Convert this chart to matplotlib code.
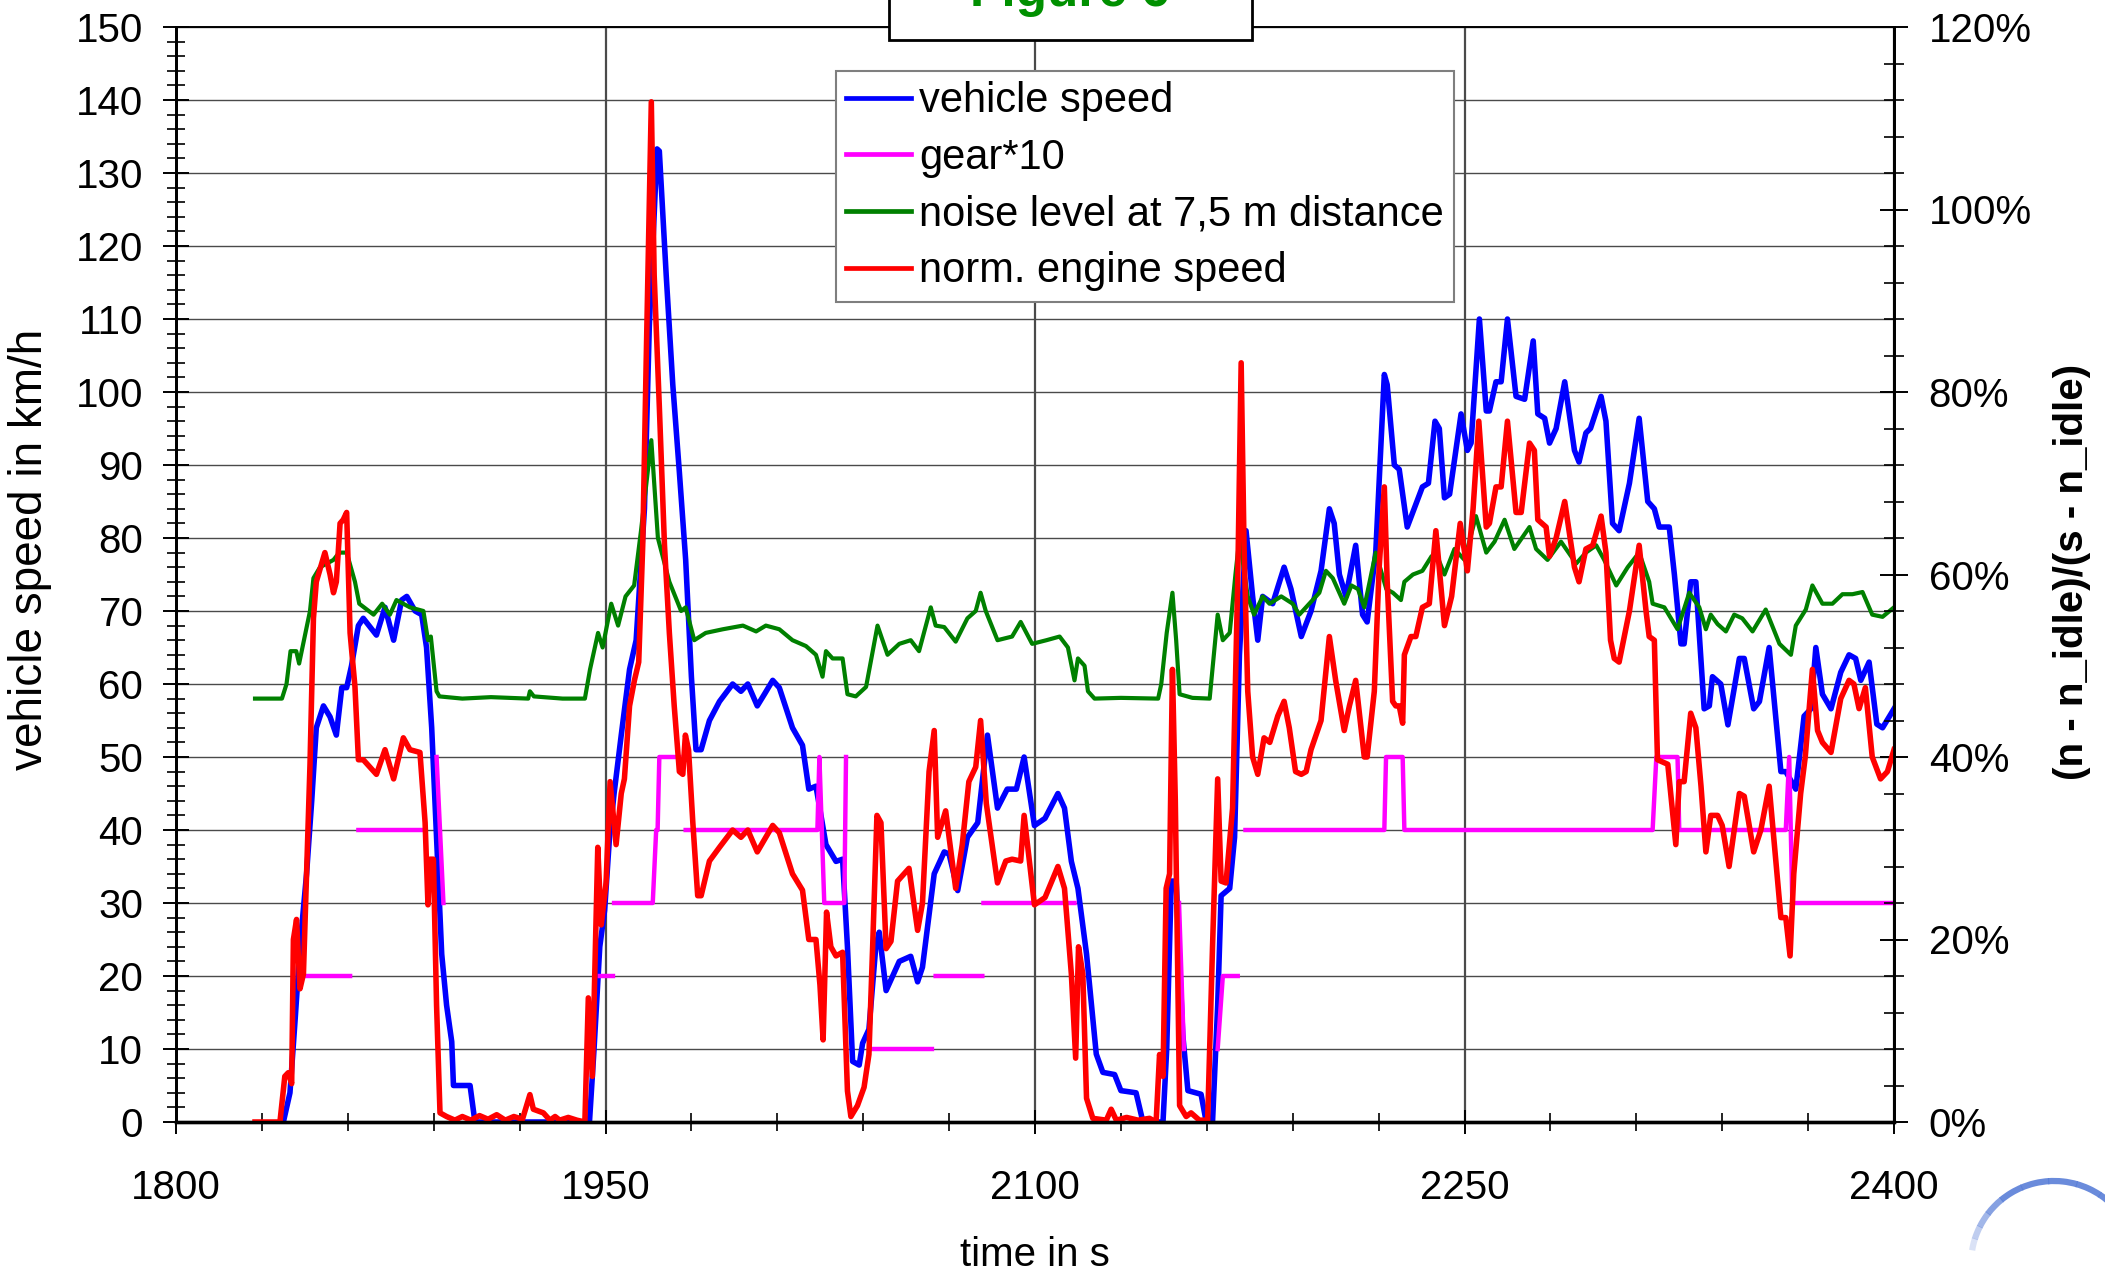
import numpy as np
import matplotlib.pyplot as plt
from matplotlib.lines import Line2D
from matplotlib.patches import Rectangle, Arc
from matplotlib.ticker import MultipleLocator, PercentFormatter

plt.rcParams['font.family'] = ['Liberation Sans', 'DejaVu Sans']

# vehicle speed in km/h
t_speed = [1837.5, 1839.8, 1841.6, 1843.3, 1845.6, 1847.4, 1849, 1851.5, 1853.8, 1856,
           1857.9, 1859.6, 1861.3, 1863.7, 1865.4, 1870, 1873, 1876, 1878.8, 1880.6,
           1883.5, 1885.8, 1887.5, 1889.3, 1891, 1892.8, 1894.5, 1896.3, 1896.9, 1902.7,
           1904.4, 1944.4, 1946, 1948, 1949.7, 1951.4, 1953, 1955.5, 1958.4, 1960.7,
           1963.6, 1965.3, 1968, 1968.8, 1971.2, 1973.5, 1975.8, 1978, 1980, 1981.6,
           1983.4, 1986.3, 1989.8, 1994.4, 1997.3, 1999.7, 2003, 2005.5, 2008.4, 2010.7,
           2015.3, 2018.8, 2021, 2023.5, 2027, 2030.5, 2032.8, 2034.5, 2036.3, 2038.6,
           2039.8, 2042, 2044.4, 2045.6, 2048, 2052.6, 2056.6, 2059, 2060.7, 2064.8,
           2068.3, 2070, 2073, 2076.4, 2080, 2083.4, 2086.9, 2090.3, 2093.5, 2096.2,
           2099.8, 2103.5, 2108, 2110.3, 2112.7, 2115, 2118, 2121.4, 2123.7, 2127.8,
           2130, 2135.3, 2137.7, 2144.7, 2146, 2147.6, 2149.3, 2151.6, 2153.4, 2158,
           2159.8, 2162, 2163.8, 2165, 2168, 2169.7, 2171.4, 2173.7, 2176, 2177.8,
           2179.5, 2183, 2187, 2189.4, 2193, 2196.4, 2199.9, 2202.8, 2204.5, 2206.3,
           2208.6, 2212, 2214.4, 2216, 2219, 2222, 2223, 2225.5, 2227.2, 2230,
           2232.4, 2235.3, 2237.4, 2239.7, 2241.2, 2243, 2244.8, 2248.8, 2251, 2252.3,
           2255.2, 2257.6, 2258.7, 2261, 2262.8, 2265, 2268, 2271, 2274, 2275.6,
           2278, 2279.7, 2282, 2285, 2288.4, 2290, 2292.4, 2294, 2297.7, 2299.4,
           2301.7, 2304, 2307.6, 2311, 2314, 2316.3, 2318, 2321.5, 2323.3, 2325.6,
           2326.7, 2329, 2330.8, 2333.7, 2335.5, 2336.6, 2339.5, 2342, 2346, 2347.7,
           2351, 2353, 2356.4, 2360.5, 2362.2, 2365.7, 2368.6, 2371, 2372.7, 2375,
           2378, 2381.4, 2384.3, 2386.6, 2388.4, 2391.3, 2394, 2396, 2400]
v_speed = [0, 4, 14, 24, 34, 44, 54, 57, 55.5, 53,
           59.5, 59.5, 62.5, 68, 69, 66.7, 70.5, 66, 71.5, 72,
           70, 69.5, 65, 54, 39, 23, 16, 11, 5, 5,
           0, 0, 10, 24, 29, 39, 45, 53, 62, 66,
           84, 109, 133.3, 133, 116, 101, 89, 77, 61, 51,
           51, 55, 57.6, 60, 59, 60, 57, 58.6, 60.5, 59.5,
           54, 51.6, 45.6, 46, 38, 35.7, 36, 24, 8.3, 7.8,
           10.8, 12.7, 24, 26, 18, 22, 22.7, 19.2, 21.2, 34,
           37, 36.7, 31.7, 39, 41, 53, 43, 45.6, 45.6, 50,
           40.6, 41.6, 45, 43, 35.7, 32, 23, 9.3, 6.8, 6.5,
           4.3, 4, 0, 0, 10, 33, 33, 12, 4.3, 3.8,
           0, 0, 16, 31, 32, 39, 64, 81, 72, 66,
           72, 71, 76, 73, 66.5, 70, 75.5, 84, 82, 75,
           72, 79, 69.5, 68.5, 78, 102.4, 101, 90, 89.4, 81.5,
           84, 87, 87.5, 96, 95, 85.5, 86, 97, 92, 93,
           110, 97.4, 97.4, 101.4, 101.4, 110, 99.4, 99, 107, 97,
           96.4, 93, 95, 101.4, 92, 90.4, 94.4, 95, 99.4, 96,
           82, 81, 87.5, 96.4, 85, 84, 81.5, 81.5, 75, 65.5,
           65.5, 74, 74, 56.6, 57, 61, 60, 54.4, 63.5, 63.5,
           56.6, 57.6, 65, 48, 48, 45.6, 55.6, 56.6, 65, 58.6,
           56.6, 61.6, 64, 63.5, 60.5, 63, 54.5, 54, 56.6]

# gear*10, gaps while declutched
t_gear = [1844.5, 1860.8, 1862, 1863.7, 1886.4, 1888, 1891, 1893.4, 1895,
          1948, 1952.6, 1952.8, 1953, 1966.5, 1967.7, 1968.2, 1968.8, 1975.8, 1977,
          1978, 2024, 2024.7, 2026.4, 2033.4, 2034, 2034.6,
          2043.3, 2064, 2064.7, 2065.3, 2081.6, 2081.8, 2082, 2113.8, 2114.5,
          2150.3, 2152, 2152.5, 2163.8, 2165.6, 2170.8, 2172,
          2173.5, 2222, 2222.6, 2228.4, 2229, 2315.7, 2317, 2324.4, 2325,
          2362.2, 2363.4, 2364.5, 2400]
v_gear = [20, 20, np.nan, 40, 40, np.nan, 50, 30, np.nan,
          20, 20, np.nan, 30, 30, 40, 40, 50, 50, np.nan,
          40, 40, 50, 30, 30, 50, np.nan,
          10, 10, np.nan, 20, 20, np.nan, 30, 30, np.nan,
          30, 10, np.nan, 10, 20, 20, np.nan,
          40, 40, 50, 50, 40, 40, 50, 50, 40,
          40, 50, 30, 30]

# noise level at 7,5 m
t_noise = [1827.6, 1837, 1838.6, 1840, 1842, 1843, 1846.8, 1848, 1850.3, 1855,
           1857, 1859.6, 1862.5, 1864, 1869, 1872, 1874.7, 1877, 1881.7, 1886.4,
           1888, 1889, 1891, 1892, 1900, 1910, 1923, 1923.6, 1925, 1935,
           1942.8, 1944.6, 1947.4, 1949, 1952, 1954.4, 1957, 1960, 1962.4, 1966,
           1968.3, 1972.3, 1976.4, 1978, 1981, 1985, 1991, 1998, 2002.6, 2006,
           2010.7, 2015.3, 2020, 2023.5, 2025.8, 2027, 2029.3, 2032.8, 2034.5, 2037.4,
           2041, 2045, 2048.5, 2052.6, 2056.6, 2059.5, 2063.6, 2065.3, 2068.3, 2072.3,
           2076.4, 2079.3, 2081, 2082.8, 2086.9, 2092, 2095, 2099, 2104, 2108.6,
           2111.5, 2113.8, 2115, 2117.3, 2118.5, 2120.8, 2130, 2143, 2144.1, 2146,
           2148, 2149.3, 2150.5, 2155, 2161, 2163.8, 2165.6, 2168, 2170, 2171.4,
           2174.3, 2176.5, 2179.5, 2181.9, 2186, 2190, 2192.3, 2195.8, 2199.3, 2201.6,
           2204, 2208, 2210.5, 2212.8, 2215, 2219, 2222.7, 2225, 2227.8, 2229,
           2232, 2235.3, 2238.5, 2241, 2243, 2246.5, 2250, 2254, 2257.6, 2260.5,
           2264, 2267.4, 2272.7, 2275, 2279, 2283.7, 2289, 2292.4, 2296, 2298.8,
           2303, 2307, 2311, 2314.5, 2315.7, 2319.8, 2324.4, 2328.5, 2332, 2334.3,
           2336, 2338.4, 2341.3, 2344.2, 2347, 2350.6, 2355.2, 2360, 2364, 2365.7,
           2369.2, 2371.5, 2375, 2378.5, 2382, 2385.5, 2389, 2392.4, 2396, 2400]
v_noise = [58, 58, 60, 64.5, 64.5, 62.8, 70, 74.5, 76, 77,
           78, 78, 74, 71, 69.5, 71, 69.5, 71.5, 70.5, 70,
           66, 66.5, 59, 58.3, 58, 58.2, 58, 59, 58.3, 58,
           58, 62, 67, 65, 71, 68, 72, 73.5, 81, 93.4,
           80, 74, 70, 70.5, 66, 67, 67.5, 68, 67.2, 68,
           67.5, 66, 65.2, 64, 61, 64.5, 63.5, 63.5, 58.6, 58.3,
           59.6, 68, 64, 65.5, 66, 64.5, 70.5, 68, 67.8, 65.8,
           69, 70, 72.5, 70, 66, 66.5, 68.5, 65.5, 66, 66.5,
           65, 60.5, 63.5, 62.5, 59, 58, 58.1, 58, 60, 67,
           72.5, 66, 58.6, 58.1, 58, 69.5, 66, 67, 75, 80,
           72, 69.5, 72, 71, 72, 71, 69.5, 71, 72.5, 75.5,
           74.5, 71, 73.5, 73, 70.5, 78, 73, 72.5, 71.5, 74,
           75, 75.5, 77.5, 77, 75, 78.5, 77, 83, 78, 79.5,
           82.5, 78.5, 81.5, 78.5, 77, 79.5, 76.5, 78, 79, 77,
           73.5, 76, 78, 74, 71, 70.5, 67.5, 72.5, 70.5, 67.5,
           69.5, 68.2, 67.2, 69.5, 69, 67.2, 70.2, 65.5, 64, 68,
           70.2, 73.5, 71, 71, 72.3, 72.3, 72.6, 69.5, 69.2, 70.5]

# normalised engine speed (n - n_idle)/(s - n_idle) in %
t_engine = [1827.6, 1836.3, 1838, 1839.2, 1840.4, 1841, 1842.1, 1843.3, 1844.5, 1845.6,
            1846.8, 1848, 1849, 1850.9, 1852, 1853.8, 1855, 1856, 1857.3, 1858.4,
            1859.6, 1860.8, 1862.5, 1863.7, 1865.4, 1870, 1873, 1876, 1879.4, 1881.7,
            1885.2, 1887, 1888, 1888.7, 1889.9, 1891, 1892.2, 1894.5, 1897.4, 1900,
            1903, 1906, 1909, 1912, 1915, 1918, 1921, 1923.6, 1924.8, 1928.3,
            1930.6, 1932.4, 1934, 1937, 1940, 1942.8, 1944, 1945.4, 1947.3, 1948.5,
            1950.2, 1951.6, 1953.7, 1955.5, 1956.6, 1958.4, 1960.1, 1961.6, 1963, 1964.2,
            1966, 1967, 1968.8, 1970.6, 1972.3, 1974, 1975.8, 1977, 1977.9, 1979,
            1980.5, 1982.2, 1983.4, 1986.3, 1989.8, 1994.4, 1997.3, 1999.7, 2003, 2008.4,
            2010.7, 2015.3, 2018.8, 2021, 2023.5, 2024.9, 2026, 2027.2, 2028.7, 2030.5,
            2032.8, 2034.5, 2035.7, 2038, 2040.3, 2042, 2043.3, 2044.8, 2046.2, 2048,
            2049.7, 2052, 2056, 2059, 2060.7, 2063, 2064.8, 2066, 2068.8, 2072.3,
            2074.6, 2076.9, 2079.3, 2081, 2083, 2086.9, 2089.8, 2092, 2095, 2096.2,
            2099.8, 2103.5, 2108, 2110.3, 2112.7, 2114.2, 2115.2, 2116.7, 2118, 2120.2,
            2124.9, 2126.6, 2128.4, 2132, 2136, 2140, 2142.3, 2143.5, 2144.7, 2145.8,
            2147, 2148, 2149, 2150.5, 2152.8, 2154.5, 2157.4, 2160.3, 2162, 2163.8,
            2165, 2166.7, 2169, 2170.8, 2172, 2173, 2174.3, 2176, 2177.8, 2180,
            2182, 2184.8, 2187, 2188.8, 2191, 2193, 2194.7, 2196.4, 2199.9, 2202.8,
            2205, 2208, 2209.8, 2212, 2215, 2216, 2218.5, 2220.2, 2222, 2223,
            2224.9, 2226, 2227.2, 2228.4, 2229, 2231.3, 2233, 2235.3, 2237.7, 2240,
            2243, 2245.5, 2248.5, 2251, 2253, 2255, 2257.6, 2258.7, 2261, 2262.8,
            2265, 2268, 2269.8, 2272.7, 2274.4, 2275.6, 2278.5, 2279.7, 2282, 2285,
            2288.4, 2290, 2292.4, 2294.8, 2297.7, 2299.4, 2301, 2302.3, 2304, 2307.6,
            2311, 2313.4, 2314.5, 2316.3, 2317.4, 2321, 2323.8, 2325, 2326.7, 2329,
            2330.8, 2332.6, 2334.3, 2336, 2338.4, 2340, 2342.4, 2346, 2347.7, 2351,
            2353.5, 2356.4, 2360.5, 2362.2, 2363.7, 2365, 2367.4, 2369, 2371.5, 2373.3,
            2375, 2378, 2381.4, 2384.3, 2386, 2387.8, 2390, 2392.4, 2395.3, 2397.7,
            2400]
v_engine = [0, 0, 5.0, 5.4, 4.2, 20.0, 22.2, 14.6, 16.2, 27.2,
            39.2, 55.2, 59.2, 61.2, 62.4, 60.0, 58.0, 59.2, 65.6, 66.0,
            66.8, 53.6, 47.7, 39.7, 39.7, 38.1, 40.8, 37.6, 42.1, 40.8,
            40.5, 32.8, 23.8, 28.8, 28.8, 12.8, 1.0, 0.6, 0.2, 0.6,
            0.2, 0.7, 0.3, 0.8, 0.2, 0.6, 0.3, 3.0, 1.4, 1.0,
            0.2, 0.6, 0.2, 0.5, 0.2, 0, 13.6, 5.0, 30.1, 21.6,
            26.2, 37.3, 30.4, 36.0, 37.6, 45.6, 48.4, 50.4, 63.2, 83.2,
            111.8, 92.8, 78.4, 63.2, 53.6, 45.6, 38.4, 38.1, 42.4, 40.8,
            32.8, 24.8, 24.8, 28.6, 30.1, 32.0, 31.2, 32.0, 29.6, 32.5,
            31.7, 27.2, 25.4, 20.0, 20.0, 15.0, 9.0, 23.0, 19.2, 18.2,
            18.6, 3.4, 0.6, 1.8, 3.8, 7.4, 19.2, 33.6, 32.8, 19.0,
            19.8, 26.4, 27.8, 21.0, 24.0, 38.4, 42.9, 31.2, 34.1, 25.6,
            30.4, 37.3, 38.9, 44.0, 34.9, 26.2, 28.6, 28.8, 28.6, 33.6,
            23.8, 24.6, 28.0, 25.6, 16.2, 7.0, 19.2, 16.2, 2.6, 0.4,
            0.2, 1.4, 0.2, 0.5, 0.2, 0.4, 0, 7.4, 5.0, 25.6,
            27.2, 49.6, 35.2, 1.8, 0.6, 1.0, 0.2, 0.2, 19.2, 37.6,
            26.4, 26.2, 34.4, 59.2, 83.2, 63.2, 47.2, 40.0, 38.1, 42.1,
            41.6, 44.5, 46.1, 43.2, 38.4, 38.1, 38.4, 40.8, 44.0, 53.2,
            48.4, 42.9, 45.6, 48.4, 40.0, 40.0, 47.2, 60.8, 69.6, 59.2,
            46.1, 45.6, 45.6, 43.7, 51.2, 53.2, 53.2, 56.4, 56.8, 64.8,
            54.4, 57.6, 65.6, 60.4, 67.2, 76.8, 65.2, 65.6, 69.6, 69.6,
            76.8, 66.8, 66.8, 74.4, 73.6, 66.0, 65.2, 62.0, 64.0, 68.0,
            60.8, 59.2, 62.8, 63.2, 66.4, 62.4, 52.8, 50.8, 50.4, 56.0,
            63.2, 56.0, 53.2, 52.8, 39.7, 39.2, 30.4, 37.3, 37.3, 44.8,
            43.2, 36.8, 29.6, 33.6, 33.6, 32.5, 28.0, 36.0, 35.7, 29.6,
            32.0, 36.8, 22.4, 22.4, 18.2, 27.2, 36.0, 40.0, 49.6, 42.9,
            41.6, 40.5, 46.4, 48.4, 48.0, 45.3, 47.6, 40.0, 37.6, 38.4,
            40.8]

series_labels = ['vehicle speed', 'gear*10', 'noise level at 7,5 m distance',
                 'norm. engine speed']
c_speed, c_gear, c_noise, c_engine = '#0000ff', '#ff00ff', '#008000', '#ff0000'

W, H = 2105, 1270
fig = plt.figure(figsize=(W / 100, H / 100), dpi=100)
ax = fig.add_axes([176 / W, 148 / H, 1718 / W, 1095 / H])
ax2 = ax.twinx()

ax.plot(t_speed, v_speed, color=c_speed, lw=4.0, solid_joinstyle='round')
ax.plot(t_gear, v_gear, color=c_gear, lw=3.2)
ax.plot(t_noise, v_noise, color=c_noise, lw=3.0, solid_joinstyle='round')
ax2.plot(t_engine, v_engine, color=c_engine, lw=4.0, solid_joinstyle='round')

ax.set_xlim(1800, 2400)
ax.set_ylim(0, 150)
ax2.set_ylim(0, 120)

ax.xaxis.set_major_locator(MultipleLocator(150))
ax.xaxis.set_minor_locator(MultipleLocator(30))
ax.yaxis.set_major_locator(MultipleLocator(10))
ax.yaxis.set_minor_locator(MultipleLocator(2))
ax2.yaxis.set_major_locator(MultipleLocator(20))
ax2.yaxis.set_minor_locator(MultipleLocator(4))
ax2.yaxis.set_major_formatter(PercentFormatter(decimals=0))

ax.grid(axis='y', which='major', color='#4a4a4a', lw=1.0)
ax.grid(axis='x', which='major', color='#4a4a4a', lw=1.6)
ax.set_axisbelow(True)

ax.tick_params(axis='x', which='major', direction='inout', length=17, width=1.4,
               labelsize=29, pad=25)
ax.tick_params(axis='x', which='minor', direction='inout', length=13, width=1.2)
ax.tick_params(axis='y', which='major', direction='inout', length=19, width=1.4,
               labelsize=29, pad=14)
ax.tick_params(axis='y', which='minor', direction='inout', length=13, width=1.2)
ax2.tick_params(axis='y', which='major', direction='inout', length=20, width=1.4,
                labelsize=29, pad=15)
ax2.tick_params(axis='y', which='minor', direction='inout', length=14, width=1.2)

for a in (ax, ax2):
    a.spines['left'].set_linewidth(2.0)
    a.spines['right'].set_linewidth(2.0)
    a.spines['bottom'].set_linewidth(2.4)
    a.spines['top'].set_linewidth(1.2)

handles = [Line2D([], [], color=c, lw=3.4) for c in (c_speed, c_gear, c_noise, c_engine)]
leg = ax2.legend(handles, series_labels, loc='upper left', bbox_to_anchor=(0.384, 0.960),
                 borderaxespad=0, fontsize=30, frameon=True, fancybox=False,
                 framealpha=1, edgecolor='#7f7f7f', borderpad=0.25, labelspacing=0.4,
                 handlelength=1.55, handletextpad=0.2)
leg.get_frame().set_linewidth(1.5)

fig.text(30 / W, 1 - 549 / H, 'vehicle speed in km/h', fontsize=33,
         rotation=90, ha='center', va='center')
fig.text(2072 / W, 1 - 572 / H, '(n - n_idle)/(s - n_idle)', fontsize=29,
         fontweight='bold', rotation=90, ha='center', va='center')
fig.text(1035 / W, 4 / H, 'time in s', fontsize=29, ha='center', va='baseline')

# title box running off the top edge
fig.patches.append(Rectangle((889 / W, 1 - 40 / H), 363 / W, 60 / H,
                             transform=fig.transFigure, facecolor='white',
                             edgecolor='black', lw=2.0, zorder=5))
fig.text(1070 / W, 1 - 6 / H, 'Figure 6', fontsize=37, fontweight='bold',
         color='#009000', ha='center', va='baseline', zorder=6)

# logo arc in the lower right corner
r = 83
for k in range(12):
    th1 = 20 + k * 12
    alpha = 0.9 if k < 8 else 0.9 - (k - 7) * 0.17
    fig.patches.append(Arc((2054 / W, (H - 1264) / H), 2 * r / W, 2 * r / H,
                           theta1=th1, theta2=th1 + 12.5, transform=fig.transFigure,
                           color='#5a7fd8', lw=4.5, alpha=alpha))

fig.savefig('out.png', dpi=100)
